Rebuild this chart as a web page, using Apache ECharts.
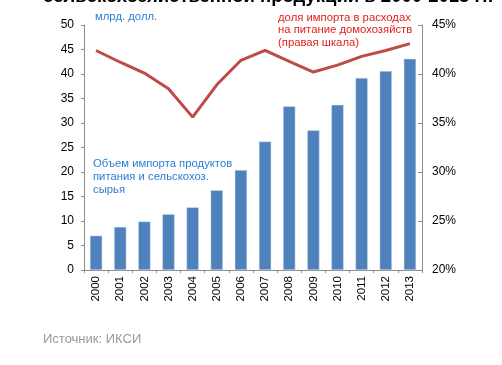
<!DOCTYPE html>
<html><head><meta charset="utf-8">
<script src="https://cdn.jsdelivr.net/npm/echarts@6/dist/echarts.min.js"></script>
<style>html,body{margin:0;padding:0;background:#fff}#c{width:502px;height:365px}</style>
</head><body><div id="c"></div>
<script>
const years = ['2000','2001','2002','2003','2004','2005','2006','2007','2008','2009','2010','2011','2012','2013'];
const importVolume = [7.0, 8.8, 9.9, 11.4, 12.8, 16.3, 20.4, 26.2, 33.4, 28.5, 33.7, 39.2, 40.6, 43.1];
const importShare = [42.4, 41.2, 40.1, 38.5, 35.6, 38.9, 41.4, 42.4, 41.3, 40.2, 40.9, 41.8, 42.4, 43.1];
const leftTicks = [0, 50, 5];
const rightTicks = [20, 45, 5];

const font = 'Liberation Sans, Arial, sans-serif';
const chart = echarts.init(document.getElementById('c'));
chart.setOption({
  animation: false,
  grid: { left: 84, right: 80, top: 25, bottom: 95 },
  graphic: [
    { type: 'text', left: 43, top: -13, style: { text: 'сельскохозяйственной продукции в 2000-2013 гг.', font: 'bold 18.5px ' + font, fill: '#000' } },
    { type: 'text', left: 95, top: 11, style: { text: 'млрд. долл.', font: '11.3px ' + font, fill: '#2a7fd4' } },
    { type: 'text', left: 278, top: 11, style: { text: 'доля импорта в расходах\nна питание домохозяйств\n(правая шкала)', font: '11.3px ' + font, fill: '#e3201b', lineHeight: 12.8 } },
    { type: 'text', left: 93, top: 157, style: { text: 'Объем импорта продуктов\nпитания и сельскохоз.\nсырья', font: '11.3px ' + font, fill: '#2a7fd4', lineHeight: 13.2 } },
    { type: 'text', left: 43, top: 333, style: { text: 'Источник: ИКСИ', font: '13px ' + font, fill: '#999999' } }
  ],
  xAxis: {
    type: 'category', data: years, boundaryGap: true,
    axisLine: { lineStyle: { color: '#8c8c8c' } },
    axisTick: { show: true, length: 3, alignWithLabel: false, lineStyle: { color: '#8c8c8c' } },
    axisLabel: { rotate: 90, color: '#000', fontSize: 11.5, fontFamily: font, margin: 6 }
  },
  yAxis: [
    { type: 'value', min: leftTicks[0], max: leftTicks[1], interval: leftTicks[2],
      axisLine: { show: true, lineStyle: { color: '#8c8c8c' } },
      axisTick: { show: true, length: 3, lineStyle: { color: '#8c8c8c' } },
      splitLine: { show: false },
      axisLabel: { color: '#000', fontSize: 12, fontFamily: font, margin: 10 } },
    { type: 'value', min: rightTicks[0], max: rightTicks[1], interval: rightTicks[2], position: 'right',
      axisLine: { show: true, lineStyle: { color: '#8c8c8c' } },
      axisTick: { show: true, inside: true, length: 4, lineStyle: { color: '#8c8c8c' } },
      splitLine: { show: false },
      axisLabel: { color: '#000', fontSize: 12, fontFamily: font, margin: 10, formatter: '{value}%' } }
  ],
  series: [
    { type: 'bar', data: importVolume, yAxisIndex: 0, barWidth: '51%',
      itemStyle: { color: '#4f81bd', borderColor: '#d7e2f0', borderWidth: 0.5 } },
    { type: 'line', data: importShare, yAxisIndex: 1, symbol: 'none',
      lineStyle: { color: '#be4b48', width: 3 } }
  ]
});
</script></body></html>
